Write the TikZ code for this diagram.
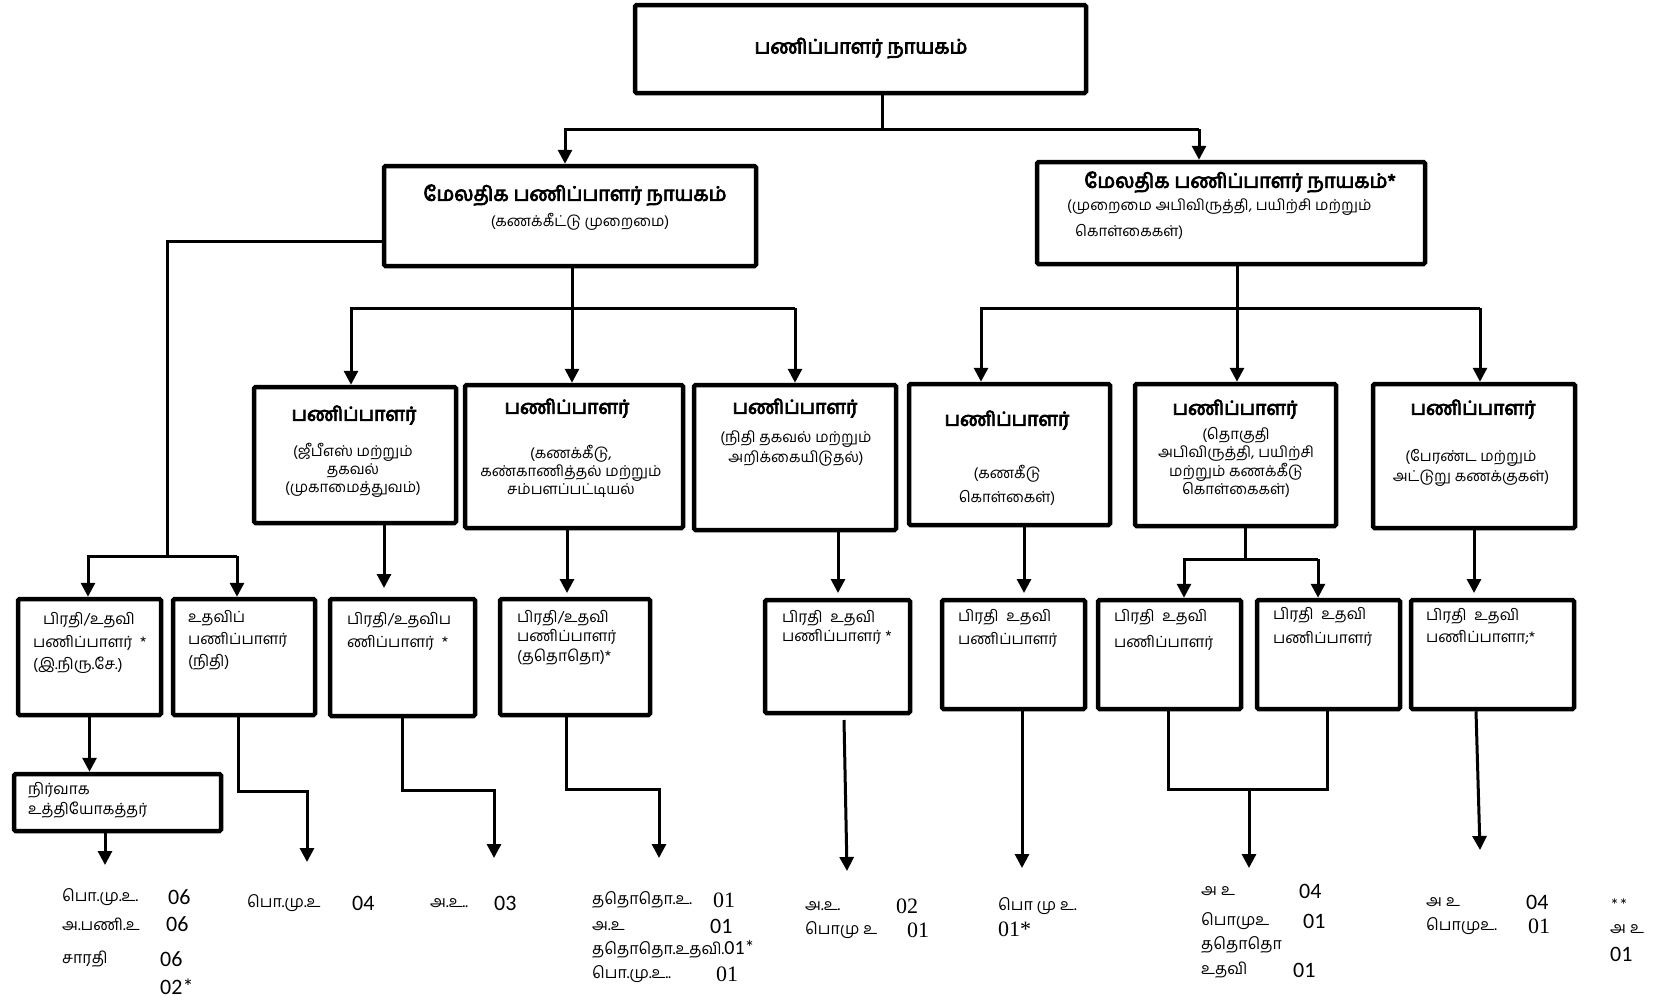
\documentclass[tikz,border=0pt]{standalone}
\usepackage{fontspec}
\usetikzlibrary{arrows.meta,calc}
\newfontfamily\ta[Script=Tamil]{Hind Madurai}
\newfontfamily\tab[Script=Tamil,FakeBold=4]{Hind Madurai}
\newfontfamily\calfont{Carlito}
\newfontfamily\tnrfont{Liberation Serif}
\begin{document}
\begin{tikzpicture}[x=1pt,y=-1pt,
  box/.style={draw, line width=4.5pt, rounded corners=1.5pt, inner sep=0pt},
  conn/.style={line width=3pt},
  arr/.style={line width=3pt, -{Triangle[length=14pt,width=14pt]}},
  ttl/.style={font=\tab\fontsize{20}{24}\selectfont, inner sep=0pt},
  sttl/.style={font=\tab\fontsize{19.5}{24}\selectfont, inner sep=0pt},
  sub/.style={font=\ta\fontsize{15}{19}\selectfont, inner sep=0pt, align=center},
  lft/.style={font=\ta\fontsize{15.5}{22}\selectfont, inner sep=0pt, align=left, anchor=west},
  lab/.style={font=\ta\fontsize{16}{20}\selectfont, inner sep=0pt, anchor=west},
  nsan/.style={font=\calfont\fontsize{22}{24}\selectfont, inner sep=0pt, anchor=west},
  nser/.style={font=\tnrfont\fontsize{22}{24}\selectfont, inner sep=0pt, anchor=west}]
\fill[white] (0,0) rectangle (1669,1001);
\useasboundingbox (0,0) rectangle (1669,1001);

% ---------- boxes ----------
\node[box, minimum width=451pt, minimum height=88pt] (T) at (860.5,49) {};
\node[box, minimum width=372pt, minimum height=100pt] (L2a) at (570,216) {};
\node[box, minimum width=388pt, minimum height=102pt] (L2b) at (1231,213) {};
\node[box, minimum width=202pt, minimum height=136pt] (b1) at (355,455) {};
\node[box, minimum width=218pt, minimum height=143pt] (b2) at (574,456.5) {};
\node[box, minimum width=202pt, minimum height=145pt] (b3) at (795,457.5) {};
\node[box, minimum width=201pt, minimum height=141pt] (b4) at (1009.5,454.5) {};
\node[box, minimum width=201pt, minimum height=142pt] (b5) at (1235.5,455) {};
\node[box, minimum width=202pt, minimum height=144pt] (b6) at (1474,456) {};
\node[box, minimum width=143pt, minimum height=116pt] (A) at (89.5,657) {};
\node[box, minimum width=142pt, minimum height=116pt] (B) at (244,657) {};
\node[box, minimum width=145pt, minimum height=117pt] (C) at (402.5,657.5) {};
\node[box, minimum width=150pt, minimum height=116pt] (D) at (575,657) {};
\node[box, minimum width=145pt, minimum height=113pt] (E) at (837.5,656.5) {};
\node[box, minimum width=143pt, minimum height=109pt] (F) at (1013.5,654.5) {};
\node[box, minimum width=143pt, minimum height=109pt] (G) at (1169.5,654.5) {};
\node[box, minimum width=143pt, minimum height=109pt] (H) at (1328.5,654.5) {};
\node[box, minimum width=163pt, minimum height=109pt] (I) at (1492.5,654.5) {};
\node[box, minimum width=207pt, minimum height=57pt] (L5) at (117.5,802.5) {};

% ---------- connectors ----------
\coordinate (j0) at (882,129);
\coordinate (jL) at (565,129);
\coordinate (jR) at (1199,129);
\draw[conn] (j0 |- T.south) -- (j0);
\draw[arr] (jR) -- (jL) -- (jL |- L2a.north);
\draw[arr] (jR) -- (jR |- L2b.north);

\coordinate (k1) at (167,241);
\coordinate (kA) at (88,556);
\coordinate (kB) at (237,556);
\draw[conn] (L2a.west |- k1) -- (k1) -- (k1 |- kA);
\draw[arr] (kB) -- (kA) -- (kA |- A.north);
\draw[arr] (kB) -- (kB |- B.north);

\coordinate (m) at (572,308);
\coordinate (mL) at (351,308);
\coordinate (mR) at (795,308);
\draw[conn] (m |- L2a.south) -- (m);
\draw[arr] (mR) -- (mL) -- (mL |- b1.north);
\draw[arr] (m) -- (m |- b2.north);
\draw[arr] (mR) -- (mR |- b3.north);

\coordinate (n) at (1237,308);
\coordinate (nL) at (981,308);
\coordinate (nR) at (1480,308);
\draw[conn] (n |- L2b.south) -- (n);
\draw[arr] (nR) -- (nL) -- (nL |- b4.north);
\draw[arr] (n) -- (n |- b5.north);
\draw[arr] (nR) -- (nR |- b6.north);

\coordinate (c1) at (384,588);
\draw[arr] (c1 |- b1.south) -- (c1);
\coordinate (c2) at (567,593);
\draw[arr] (c2 |- b2.south) -- (c2);
\coordinate (c3) at (838,593);
\draw[arr] (c3 |- b3.south) -- (c3);
\coordinate (c4) at (1024,593);
\draw[arr] (c4 |- b4.south) -- (c4);
\coordinate (c5) at (1245,559);
\coordinate (c5L) at (1184,559);
\coordinate (c5R) at (1318,559);
\draw[conn] (c5 |- b5.south) -- (c5);
\draw[arr] (c5R) -- (c5L) -- (c5L |- G.north);
\draw[arr] (c5R) -- (c5R |- H.north);
\coordinate (c6) at (1474,593);
\draw[arr] (c6 |- b6.south) -- (c6);

\draw[arr] (A.south) -- (A.south |- L5.north);
\coordinate (t1) at (105,865);
\draw[arr] (t1 |- L5.south) -- (t1);
\coordinate (uB) at (238,791);
\coordinate (tB) at (307,862);
\draw[arr] (uB |- B.south) -- (uB) -- (uB -| tB) -- (tB);
\coordinate (uC) at (402,790);
\coordinate (tC) at (494,858);
\draw[arr] (uC |- C.south) -- (uC) -- (uC -| tC) -- (tC);
\coordinate (uD) at (566,789);
\coordinate (tD) at (659,858);
\draw[arr] (uD |- D.south) -- (uD) -- (uD -| tD) -- (tD);
\coordinate (sE) at (844,720);
\coordinate (tE) at (847,871);
\draw[arr] (sE) -- (tE);
\coordinate (tF) at (1022,868);
\draw[arr] (tF |- F.south) -- (tF);
\coordinate (uG) at (1168,789);
\coordinate (uH) at (1327,789);
\coordinate (uM) at (1249,789);
\coordinate (tM) at (1249,868);
\draw[conn] (uG |- G.south) -- (uG) -- (uH) -- (uH |- H.south);
\draw[arr] (uM) -- (tM);
\coordinate (sI) at (1476,0);
\coordinate (tI) at (1480,850);
\draw[arr] (sI |- I.south) -- (tI);

% ---------- texts in boxes ----------
\node[ttl] (tT) at (861,48) {பணிப்பாளர் நாயகம்};
\node[ttl] (tL2a) at (575,195) {மேலதிக பணிப்பாளர் நாயகம்};
\node[sub] (sL2a) at (580,222) {(கணக்கீட்டு முறைமை)};
\node[ttl] (tL2b) at (1240,182) {மேலதிக பணிப்பாளர் நாயகம்*};
\node[sub, anchor=west] (sL2b1) at (1067,207) {(முறைமை அபிவிருத்தி, பயிற்சி மற்றும்};
\node[sub, anchor=west] (sL2b2) at (1075,232) {கொள்கைகள்)};

\node[sttl] (tb1) at (354,415) {பணிப்பாளர்};
\node[sub, font=\ta\fontsize{15}{18}\selectfont] (sb1) at (353,470) {(ஜீபீஎஸ் மற்றும்\\தகவல்\\(முகாமைத்துவம்)};
\node[sttl] (tb2) at (567,408) {பணிப்பாளர்};
\node[sub, font=\ta\fontsize{15}{18}\selectfont] (sb2) at (571,471) {(கணக்கீடு,\\கண்காணித்தல் மற்றும்\\சம்பளப்பட்டியல்};
\node[sttl] (tb3) at (795,408) {பணிப்பாளர்};
\node[sub, font=\ta\fontsize{15}{20}\selectfont] (sb3) at (796,448) {(நிதி தகவல் மற்றும்\\அறிக்கையிடுதல்)};
\node[sttl] (tb4) at (1007,420) {பணிப்பாளர்};
\node[sub, font=\ta\fontsize{15}{24}\selectfont] (sb4) at (1007,485) {(கணகீடு\\கொள்கைள்)};
\node[sttl] (tb5) at (1235,409) {பணிப்பாளர்};
\node[sub, font=\ta\fontsize{15}{18.5}\selectfont] (sb5) at (1236,462.5) {(தொகுதி\\அபிவிருத்தி, பயிற்சி\\மற்றும் கணக்கீடு\\கொள்கைகள்)};
\node[sttl] (tb6) at (1473,409) {பணிப்பாளர்};
\node[sub, font=\ta\fontsize{15}{20}\selectfont] (sb6) at (1471,468) {(பேரண்ட மற்றும்\\அட்டுறு கணக்குகள்)};

\node[lft, font=\ta\fontsize{15.5}{22.5}\selectfont] (xA) at (33,643) {\hspace*{10pt}பிரதி/உதவி\\பணிப்பாளர்~~*\\(இ.நிரு.சே.)};
\node[lft] (xB) at (188,640) {உதவிப்\\பணிப்பாளர்\\(நிதி)};
\node[lft, font=\ta\fontsize{15.5}{23}\selectfont] (xC) at (347,631.5) {பிரதி/உதவிப\\ணிப்பாளர்~~*};
\node[lft, font=\ta\fontsize{15.5}{19.5}\selectfont] (xD) at (517,637.5) {பிரதி/உதவி\\பணிப்பாளர்\\(ததொதொ)*};
\node[lft, font=\ta\fontsize{15.5}{19.5}\selectfont] (xE) at (782,627.5) {பிரதி~~உதவி\\பணிப்பாளர்~*};
\node[lft, font=\ta\fontsize{15.5}{23}\selectfont] (xF) at (958,628.5) {பிரதி~~உதவி\\பணிப்பாளர்};
\node[lft, font=\ta\fontsize{15.5}{26}\selectfont] (xG) at (1114,630) {பிரதி~~உதவி\\பணிப்பாளர்};
\node[lft, font=\ta\fontsize{15.5}{24}\selectfont] (xH) at (1273,627) {பிரதி~~உதவி\\பணிப்பாளர்};
\node[lft, font=\ta\fontsize{15.5}{22}\selectfont] (xI) at (1426,626) {பிரதி~~உதவி\\பணிப்பாளா;*};
\node[lft, font=\ta\fontsize{15.5}{20}\selectfont] (xL5) at (28,800) {நிர்வாக\\உத்தியோகத்தர்};

% ---------- bottom texts ----------
\node[lab] (g1a) at (62,897) {பொ.மு.உ.};
\node[nsan] (g1an) at (168,897) {06};
\node[lab] (g1b) at (62,924) {அ.பணி.உ};
\node[nsan] (g1bn) at (166,924) {06};
\node[lab] (g1c) at (62,959) {சாரதி};
\node[nsan] (g1cn) at (160,959) {06};
\node[nsan] (g1dn) at (160,987) {02*};

\node[lab] (g2a) at (247,903) {பொ.மு.உ};
\node[nsan] (g2an) at (352,903) {04};
\node[lab] (g3a) at (430,903) {அ.உ..};
\node[nsan] (g3an) at (494,903) {03};

\node[lab] (g4a) at (592,900) {ததொதொ.உ.};
\node[nser] (g4an) at (713,900) {01};
\node[lab] (g4b) at (592,926) {அ.உ};
\node[nsan] (g4bn) at (710,926) {01};
\node[lab] (g4c) at (592,949) {ததொதொ.உதவி.{\calfont\fontsize{20}{22}\selectfont 01*}};
\node[lab] (g4d) at (592,974) {பொ.மு.உ..};
\node[nser] (g4dn) at (716,974) {01};

\node[lab] (g5a) at (805,906) {அ.உ.};
\node[nser] (g5an) at (896,906) {02};
\node[lab] (g5b) at (805,930) {பொமு உ};
\node[nser] (g5bn) at (907,930) {01};

\node[lab] (g6a) at (998,906) {பொ மு உ.};
\node[nser] (g6an) at (998,929) {01*};

\node[lab] (g7a) at (1201,891) {அ உ};
\node[nsan] (g7an) at (1299,891) {04};
\node[lab] (g7b) at (1201,921) {பொமுஉ};
\node[nsan] (g7bn) at (1303,921) {01};
\node[lab] (g7c) at (1201,945) {ததொதொ};
\node[lab] (g7d) at (1201,970) {உதவி};
\node[nsan] (g7dn) at (1293,970) {01};

\node[lab] (g8a) at (1426,902) {அ உ};
\node[nsan] (g8an) at (1526,902) {04};
\node[lab] (g8b) at (1426,926) {பொமுஉ.};
\node[nser] (g8bn) at (1528,926) {01};

\node[nsan, font=\calfont\fontsize{18}{20}\selectfont] (g9a) at (1610,905) {**};
\node[lab] (g9b) at (1610,929) {அ உ};
\node[nsan] (g9c) at (1610,954) {01};
\end{tikzpicture}
\end{document}
